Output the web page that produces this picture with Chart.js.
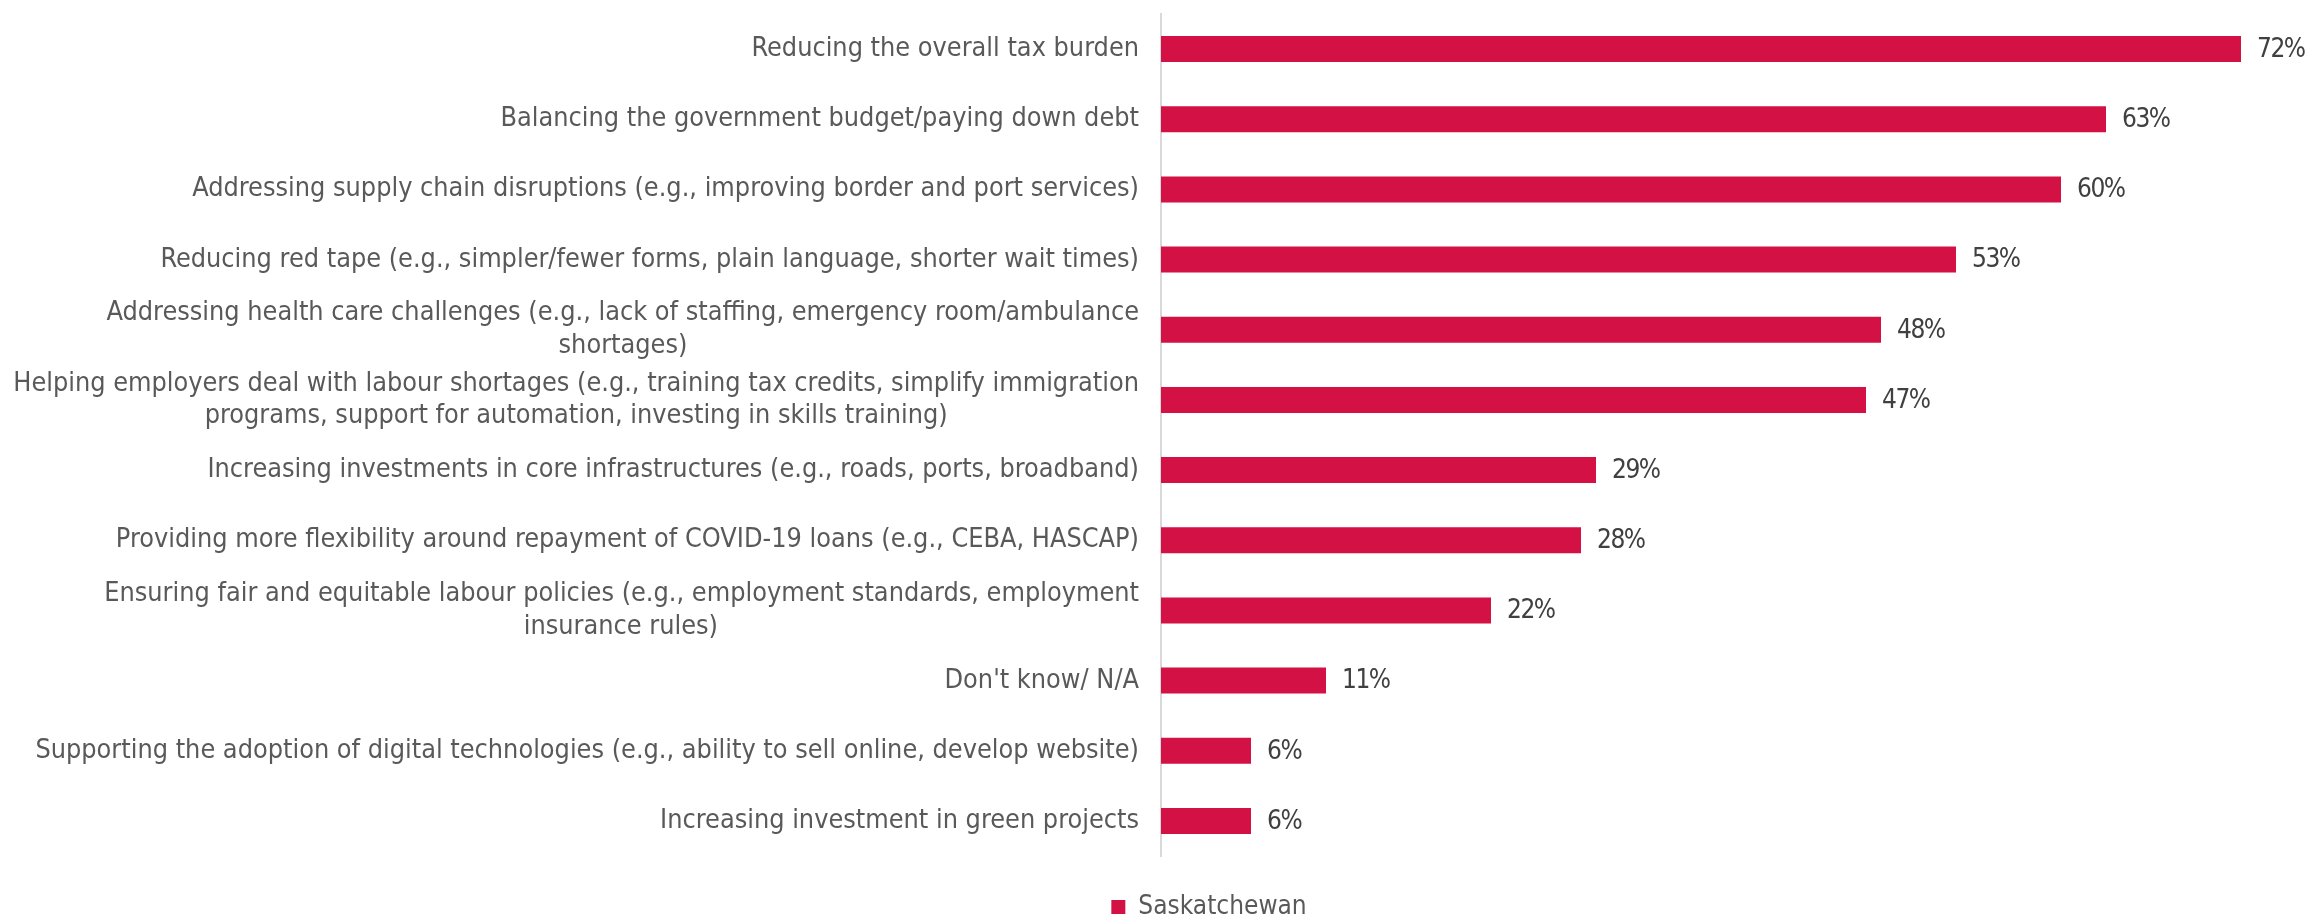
<!DOCTYPE html>
<html><head><meta charset="utf-8">
<script src="https://cdn.jsdelivr.net/npm/chart.js@4.4.0/dist/chart.umd.min.js"></script>
<style>html,body{margin:0;padding:0;background:#fff;} #wrap{width:2305px;height:919px;}</style>
</head><body><div id="wrap"><canvas id="c" width="2305" height="919"></canvas></div>
<script>
const categories = [
  "Reducing the overall tax burden",
  "Balancing the government budget/paying down debt",
  "Addressing supply chain disruptions (e.g., improving border and port services)",
  "Reducing red tape (e.g., simpler/fewer forms, plain language, shorter wait times)",
  ["Addressing health care challenges (e.g., lack of staffing, emergency room/ambulance", "shortages)"],
  ["Helping employers deal with labour shortages (e.g., training tax credits, simplify immigration", "programs, support for automation, investing in skills training)"],
  "Increasing investments in core infrastructures (e.g., roads, ports, broadband)",
  "Providing more flexibility around repayment of COVID-19 loans (e.g., CEBA, HASCAP)",
  ["Ensuring fair and equitable labour policies (e.g., employment standards, employment", "insurance rules)"],
  "Don't know/ N/A",
  "Supporting the adoption of digital technologies (e.g., ability to sell online, develop website)",
  "Increasing investment in green projects"
];
const values = [72, 63, 60, 53, 48, 47, 29, 28, 22, 11, 6, 6];
const seriesName = "Saskatchewan";
const xMin = 0, xMax = 76;

const FONT = "'DejaVu Sans Condensed', 'DejaVu Sans', sans-serif";
const FS = 26.8;
const FS_VAL = 26;
const BAR = '#D31145';
const PAD_L = 10;
const AXIS_X = 1161;
const LEGEND_CENTER = 1209;

const mctx = document.createElement('canvas').getContext('2d');
mctx.font = FS + 'px ' + FONT;
function centerLines(lab) {
  if (!Array.isArray(lab)) return lab;
  const ws = lab.map(l => mctx.measureText(l).width);
  const max = Math.max(...ws);
  const sp = mctx.measureText(' ').width;
  return lab.map((l, i) => l + ' '.repeat(Math.round((max - ws[i]) / 2 / sp)));
}

const valueLabels = {
  id: 'valueLabels',
  afterDatasetsDraw(chart) {
    const ctx = chart.ctx;
    const meta = chart.getDatasetMeta(0);
    ctx.save();
    ctx.font = FS_VAL + 'px ' + FONT;
    if ('letterSpacing' in ctx) ctx.letterSpacing = '-1.5px';
    ctx.fillStyle = '#404040';
    ctx.textAlign = 'left';
    ctx.textBaseline = 'middle';
    meta.data.forEach((bar, i) => {
      ctx.fillText(values[i] + '%', bar.x + 16, bar.y + 1);
    });
    ctx.restore();
  }
};

const legendShift = {
  id: 'legendShift',
  afterLayout(chart) {
    const lg = chart.legend;
    if (lg) { lg.left = 2 * LEGEND_CENTER - lg.right; }
  }
};

new Chart(document.getElementById('c'), {
  type: 'bar',
  data: {
    labels: categories,
    datasets: [{
      label: seriesName,
      data: values,
      backgroundColor: BAR,
      borderWidth: 0,
      barPercentage: 0.37,
      categoryPercentage: 1
    }]
  },
  options: {
    indexAxis: 'y',
    responsive: false,
    animation: false,
    layout: { padding: { top: 14, left: PAD_L, right: 4, bottom: -11 } },
    scales: {
      x: {
        min: xMin, max: xMax,
        display: true,
        grid: { display: false },
        border: { display: false },
        ticks: { display: false },
        afterFit(scale) { scale.height = 38; scale.paddingLeft = 0; scale.paddingRight = 0; }
      },
      y: {
        grid: { display: false, drawTicks: false },
        border: { display: true, color: '#D9D9D9', width: 2 },
        ticks: {
          padding: 22,
          color: '#595959',
          font: { family: FONT, size: FS, lineHeight: 1.22 },
          callback(value) { return centerLines(this.getLabelForValue(value)); }
        },
        afterFit(scale) {
          scale.width = AXIS_X - PAD_L;
          scale.paddingTop = 0;
          scale.paddingBottom = 0;
        }
      }
    },
    plugins: {
      legend: {
        position: 'bottom',
        labels: {
          boxWidth: 14, boxHeight: 14, padding: 0,
          color: '#595959',
          font: { family: FONT, size: 26 }
        }
      },
      tooltip: { enabled: false }
    }
  },
  plugins: [valueLabels, legendShift]
});
</script>
</body></html>
